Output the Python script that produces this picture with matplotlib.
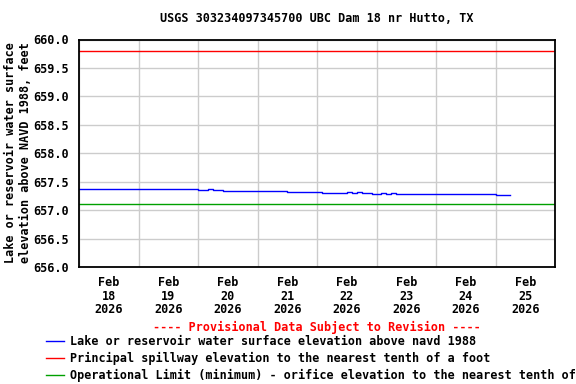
#!/usr/bin/env python3
"""USGS lake elevation chart for UBC Dam 18 nr Hutto, TX."""

import matplotlib

matplotlib.use("Agg")
import matplotlib.dates as mdates
import matplotlib.pyplot as plt
import pandas as pd

# 2-hourly lake elevation readings starting Feb 18 2026 00:00 (ft, NAVD 1988)
elevation = [
    657.37, 657.37, 657.37, 657.37, 657.37, 657.37, 657.37, 657.37,
    657.37, 657.37, 657.37, 657.37, 657.37, 657.37, 657.37, 657.37,
    657.37, 657.37, 657.37, 657.37, 657.37, 657.37, 657.37, 657.37,
    657.35, 657.35, 657.37, 657.36, 657.35,
    657.33, 657.33, 657.33, 657.33, 657.33, 657.33, 657.33, 657.33,
    657.33, 657.33, 657.33, 657.34, 657.33,
    657.31, 657.31, 657.31, 657.31, 657.31, 657.31, 657.31,
    657.30, 657.30, 657.30, 657.30, 657.30, 657.31, 657.30, 657.31,
    657.30, 657.30,
    657.29, 657.29, 657.30, 657.29, 657.30, 657.29, 657.29, 657.29,
    657.28, 657.29, 657.28, 657.28, 657.28,
    657.28, 657.28, 657.28, 657.28, 657.29, 657.28, 657.29, 657.28,
    657.29, 657.28, 657.28, 657.28,
    657.27, 657.27, 657.27, 657.27,
]
start_time = "2026-02-18 00:00"
spillway_elev = 659.8
operational_min = 657.1

title = "USGS 303234097345700 UBC Dam 18 nr Hutto, TX"
ylabel = "Lake or reservoir water surface\nelevation above NAVD 1988, feet"
legend_labels = [
    "Lake or reservoir water surface elevation above navd 1988",
    "Principal spillway elevation to the nearest tenth of a foot",
    "Operational Limit (minimum) - orifice elevation to the nearest tenth of a foot",
]
y_ticks = [656.0, 656.5, 657.0, 657.5, 658.0, 658.5, 659.0, 659.5, 660.0]

FONT = {"family": "DejaVu Sans Mono", "weight": "bold", "size": 8.5}

times = pd.date_range(start_time, periods=len(elevation), freq="2h")

fig = plt.figure(figsize=(5.76, 3.84), dpi=100)
ax = fig.add_axes([79 / 576, 1 - 267 / 384, 476 / 576, 227.5 / 384])

(l_blue,) = ax.plot(times, elevation, color="#0000ff", lw=1.0, drawstyle="steps-post")
l_red = ax.axhline(spillway_elev, color="#ff0000", lw=1.0)
l_green = ax.axhline(operational_min, color="#00a000", lw=1.0)

ax.set_xlim(pd.Timestamp("2026-02-18"), pd.Timestamp("2026-02-26"))
ax.set_ylim(656.0, 660.0)
ax.set_yticks(y_ticks)
ax.set_yticklabels([f"{v:.1f}" for v in y_ticks], fontdict=FONT)

ax.xaxis.set_major_locator(mdates.DayLocator())
ax.xaxis.set_major_formatter(plt.NullFormatter())
ax.xaxis.set_minor_locator(mdates.HourLocator(byhour=[12]))
ax.xaxis.set_minor_formatter(mdates.DateFormatter("%b\n%d\n%Y"))
for lbl in ax.get_xticklabels(minor=True):
    lbl.set_fontfamily(FONT["family"])
    lbl.set_fontweight("bold")
    lbl.set_fontsize(FONT["size"])
    lbl.set_linespacing(1.05)

ax.tick_params(axis="both", which="both", length=0)
ax.tick_params(axis="y", pad=7)
ax.tick_params(axis="x", which="minor", pad=6.5)
ax.grid(True, which="major", color="#cccccc", lw=1.0)
ax.set_axisbelow(True)
for sp in ax.spines.values():
    sp.set_color("black")
    sp.set_linewidth(1.3)

fig.text(317 / 576, 1 - 19 / 384, title, ha="center", va="center", fontdict=FONT)
fig.text(18 / 576, 1 - 153 / 384, ylabel, ha="center", va="center",
         rotation=90, multialignment="center", fontdict=FONT, linespacing=1.25)
fig.text(317 / 576, 1 - 327 / 384, "---- Provisional Data Subject to Revision ----",
         ha="center", va="center", color="#ff0000", fontdict=FONT)

fig.legend([l_blue, l_red, l_green], legend_labels, loc="upper left",
           bbox_to_anchor=(46 / 576, 1 - 335 / 384), frameon=False,
           prop={"family": "DejaVu Sans Mono", "weight": "bold", "size": 8.5},
           handlelength=1.5, handletextpad=0.55, labelspacing=0.32,
           borderpad=0, borderaxespad=0)

fig.savefig("out.png", dpi=100)
